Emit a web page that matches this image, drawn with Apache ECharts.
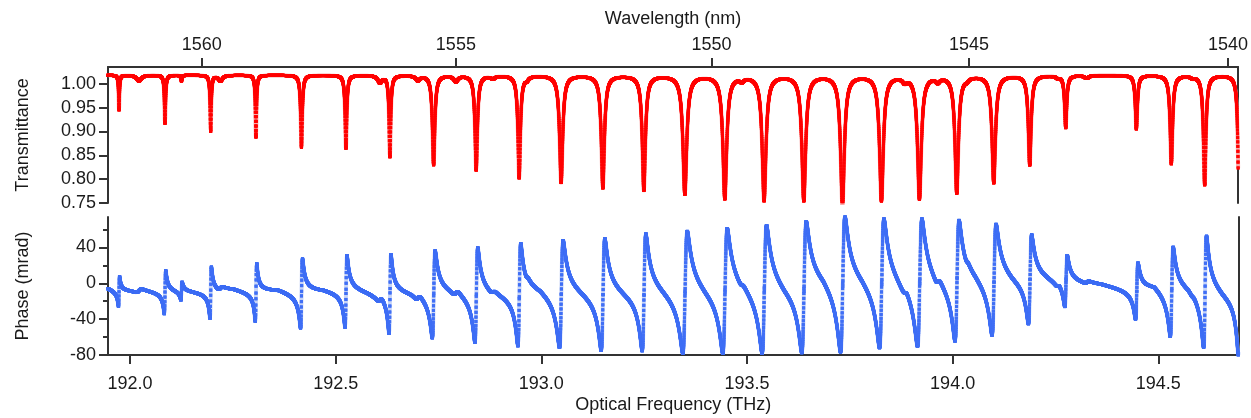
<!DOCTYPE html>
<html>
<head>
<meta charset="utf-8">
<title>Transmittance and phase</title>
<script src="https://cdn.jsdelivr.net/npm/echarts@6.0.0/dist/echarts.min.js"></script>
<style>
  html, body { margin: 0; padding: 0; background: #fff; }
  #chart { width: 1251px; height: 418px; }
</style>
</head>
<body>
<div id="chart"></div>
<script>
// speed of light in nm*THz, used for the wavelength axis
var C_NM_THZ = 299792.458;

// frequency window of the plot (THz)
var freqMin = 191.9465;
var freqMax = 194.695;

// main resonance family
var resFreq = [191.9733, 192.0851, 192.1962, 192.3063, 192.4170, 192.5252, 192.6321,
  192.7384, 192.8420, 192.9465, 193.0486, 193.1500, 193.2497, 193.3494, 193.4466,
  193.5422, 193.6387, 193.7328, 193.8276, 193.9200, 194.0107, 194.1007, 194.1882,
  194.2757, 194.4476, 194.5327, 194.6137, 194.6975];
var resTmin = [0.945, 0.917, 0.901, 0.888, 0.867, 0.865, 0.848, 0.831, 0.820, 0.804,
  0.794, 0.783, 0.778, 0.770, 0.761, 0.757, 0.757, 0.745, 0.757, 0.761, 0.773, 0.794,
  0.831, 0.909, 0.906, 0.833, 0.789, 0.700];
// half width in GHz
var resWidth = [1.3, 1.7, 1.7, 1.7, 2.4, 2.4, 2.4, 3.5, 3.5, 3.5, 4.5, 4.5, 4.5, 5.5,
  5.5, 5.5, 5.5, 5.5, 5.5, 5.5, 5, 5, 4, 3, 3, 3.6, 3.6, 3];
// phase just after / just before each resonance (mrad)
var resPhaseHi = [7.5, 14, 18, 22, 27, 31, 32, 36, 39.5, 44, 47.7, 49.6, 55, 58, 61,
  64.5, 68, 74, 72, 72, 70, 66, 54, 31, 22, 40, 53, 55];
var resPhaseLo = [-26, -34, -39, -42.5, -50, -49, -56, -61, -66, -69.6, -72, -75, -75,
  -78, -78, -78, -77, -77, -72, -70, -64, -58, -45, -26, -40, -60, -72, -80];
// phase halfway between neighbouring resonances (mrad)
var gapPhase = [-6.5, -8, -6.5, -8, -8, -11.5, -13.5, -12, -12, -9, -12, -12, -12, -10,
  -5, -8, 2, 2, -4, 2, 7, 6, 6, -1, -4.5, -8, -12];
var edgePhase = -6;

// weak second mode family
var modeFreq = [192.0219, 192.1252, 192.2200, 192.6078, 192.7002, 192.7926, 192.8826,
  192.9652, 193.4880, 193.8843, 193.9645, 194.0350, 194.2562, 194.3267, 194.5844];
var modeDepth = [0.012, 0.012, 0.012, 0.015, 0.010, 0.012, 0.006, 0.006, 0.008, 0.010,
  0.010, 0.005, 0.004, 0.006, 0.004];
var modeWidth = [7, 1.5, 6, 6, 6, 6, 6, 5, 6, 6, 6, 5, 5, 6, 5];
var modePhase = [2, 10, 2, 3, 3, 3, 2, 2, 2, 3, 4, 2, 2, 1.5, 1];

var baseline = 1.018;

// tick labels
var wavelengthTicks = [1560, 1555, 1550, 1545, 1540];
var freqTicks = [192.0, 192.5, 193.0, 193.5, 194.0, 194.5];
var transTicks = [0.75, 0.80, 0.85, 0.90, 0.95, 1.00];
var phaseTicks = [-80, -40, 0, 40];
var phaseMinorTicks = [-60, -20, 20, 60];

var step = 0.0002;

function lorentz(x, g) { return g * g / (x * x + g * g); }
function disp(x, g) { return 2 * g * x / (x * x + g * g); }

function transmittance(f) {
  var t = baseline;
  for (var j = 0; j < resFreq.length; j++) {
    t -= (baseline - resTmin[j]) * lorentz((f - resFreq[j]) * 1000, resWidth[j]);
  }
  for (var j = 0; j < modeFreq.length; j++) {
    t -= modeDepth[j] * lorentz((f - modeFreq[j]) * 1000, modeWidth[j]);
  }
  return t;
}

function phaseShape(f, amps) {
  var k = -1;
  while (k + 1 < resFreq.length && resFreq[k + 1] <= f) k++;
  var p = 0;
  for (var j = Math.max(0, k - 1); j <= Math.min(resFreq.length - 1, k + 2); j++) {
    p += amps[j] * disp((f - resFreq[j]) * 1000, resWidth[j]);
  }
  for (var j = 0; j < modeFreq.length; j++) {
    p += modePhase[j] * disp((f - modeFreq[j]) * 1000, modeWidth[j]);
  }
  return p;
}

// fit amplitudes so the jumps reach the read peak values
var amps = resPhaseHi.map(function (h, i) { return (h - resPhaseLo[i]) / 2; });
for (var it = 0; it < 4; it++) {
  amps = amps.map(function (a, i) {
    var g = resWidth[i] / 1000;
    var pp = phaseShape(resFreq[i] + g, amps) - phaseShape(resFreq[i] - g, amps);
    return a * (resPhaseHi[i] - resPhaseLo[i]) / pp;
  });
}

// slow background through the read levels
var bgNodes = [[freqMin, edgePhase - phaseShape(freqMin, amps)]];
resFreq.forEach(function (f, i) {
  var g = resWidth[i] / 1000;
  var mid = (resPhaseHi[i] + resPhaseLo[i]) / 2;
  bgNodes.push([f, mid - (phaseShape(f + g, amps) + phaseShape(f - g, amps)) / 2]);
  if (i < gapPhase.length) {
    var m = (f + resFreq[i + 1]) / 2;
    bgNodes.push([m, gapPhase[i] - phaseShape(m, amps)]);
  }
});

function background(f) {
  if (f <= bgNodes[0][0]) return bgNodes[0][1];
  for (var i = 1; i < bgNodes.length; i++) {
    if (f <= bgNodes[i][0]) {
      var a = bgNodes[i - 1], b = bgNodes[i];
      return a[1] + (b[1] - a[1]) * (f - a[0]) / (b[0] - a[0]);
    }
  }
  return bgNodes[bgNodes.length - 1][1];
}

var transData = [];
var phaseData = [];
var n = Math.round((freqMax - freqMin) / step);
for (var i = 0; i <= n; i++) {
  var f = freqMin + i * step;
  transData.push([f, transmittance(f)]);
  phaseData.push([f, background(f) + phaseShape(f, amps)]);
}

var axisColor = '#333';
var textStyle = { color: '#1a1a1a', fontSize: 18, fontFamily: 'Liberation Sans, Arial, sans-serif' };

function frameAxis(gridIndex, min, max) {
  return {
    gridIndex: gridIndex, type: 'value', position: 'right', min: min, max: max,
    axisLine: { show: true, onZero: false, lineStyle: { color: axisColor, width: 2 } },
    axisTick: { show: false }, axisLabel: { show: false }, splitLine: { show: false }
  };
}

var option = {
  animation: false,
  backgroundColor: '#fff',
  grid: [
    { left: 108, right: 12.5, top: 67, height: 136 },
    { left: 108, right: 12.5, top: 217, height: 138 }
  ],
  xAxis: [
    {
      gridIndex: 0, type: 'value', position: 'top', min: freqMin, max: freqMax,
      name: 'Wavelength (nm)', nameLocation: 'middle', nameGap: 39, nameTextStyle: textStyle,
      axisLine: { show: true, onZero: false, lineStyle: { color: axisColor, width: 2 } },
      axisTick: { length: 9, lineStyle: { color: axisColor, width: 2 },
        customValues: wavelengthTicks.map(function (w) { return C_NM_THZ / w; }) },
      axisLabel: Object.assign({ margin: 13,
        customValues: wavelengthTicks.map(function (w) { return C_NM_THZ / w; }),
        formatter: function (v) { return String(Math.round(C_NM_THZ / v)); } }, textStyle),
      splitLine: { show: false }
    },
    {
      gridIndex: 1, type: 'value', position: 'bottom', min: freqMin, max: freqMax,
      name: 'Optical Frequency (THz)', nameLocation: 'middle', nameGap: 41, nameTextStyle: textStyle,
      axisLine: { show: true, onZero: false, lineStyle: { color: axisColor, width: 2 } },
      axisTick: { length: 9, lineStyle: { color: axisColor, width: 2 }, customValues: freqTicks },
      axisLabel: Object.assign({ margin: 20, customValues: freqTicks,
        formatter: function (v) { return v.toFixed(1); } }, textStyle),
      splitLine: { show: false }
    }
  ],
  yAxis: [
    {
      gridIndex: 0, type: 'value', position: 'left', min: 0.75, max: 1.035,
      name: 'Transmittance', nameLocation: 'middle', nameGap: 76, nameRotate: 90, nameTextStyle: textStyle,
      axisLine: { show: true, onZero: false, lineStyle: { color: axisColor, width: 2 } },
      axisTick: { length: 9, lineStyle: { color: axisColor, width: 2 }, customValues: transTicks },
      axisLabel: Object.assign({ margin: 12, customValues: transTicks,
        formatter: function (v) { return v.toFixed(2); } }, textStyle),
      splitLine: { show: false }
    },
    frameAxis(0, 0.75, 1.035),
    {
      gridIndex: 1, type: 'value', position: 'left', min: -80, max: 74,
      name: 'Phase (mrad)', nameLocation: 'middle', nameGap: 76, nameRotate: 90, nameTextStyle: textStyle,
      axisLine: { show: true, onZero: false, lineStyle: { color: axisColor, width: 2 } },
      axisTick: { length: 9, lineStyle: { color: axisColor, width: 2 }, customValues: phaseTicks },
      axisLabel: Object.assign({ margin: 12, customValues: phaseTicks,
        formatter: function (v) { return String(v); } }, textStyle),
      splitLine: { show: false }
    },
    {
      gridIndex: 1, type: 'value', position: 'left', min: -80, max: 74,
      axisLine: { show: false, onZero: false },
      axisTick: { length: 5, lineStyle: { color: axisColor, width: 2 }, customValues: phaseMinorTicks },
      axisLabel: { show: false }, splitLine: { show: false }
    },
    frameAxis(1, -80, 74)
  ],
  series: [
    {
      type: 'line', xAxisIndex: 0, yAxisIndex: 0, data: transData, showSymbol: false,
      lineStyle: { color: '#f8aaaa', width: 4 }, silent: true, z: 1
    },
    {
      type: 'scatter', xAxisIndex: 0, yAxisIndex: 0, data: transData, symbol: 'rect',
      symbolSize: 3, itemStyle: { color: '#ff0000' }, large: true, silent: true, z: 2
    },
    {
      type: 'line', xAxisIndex: 1, yAxisIndex: 2, data: phaseData, showSymbol: false,
      lineStyle: { color: '#c6d3f7', width: 4 }, silent: true, z: 1
    },
    {
      type: 'scatter', xAxisIndex: 1, yAxisIndex: 2, data: phaseData, symbol: 'rect',
      symbolSize: 3, itemStyle: { color: '#3f6ef5' }, large: true, silent: true, z: 2
    }
  ]
};

var chart = echarts.init(document.getElementById('chart'), null, { renderer: 'canvas' });
chart.setOption(option);
</script>
</body>
</html>
